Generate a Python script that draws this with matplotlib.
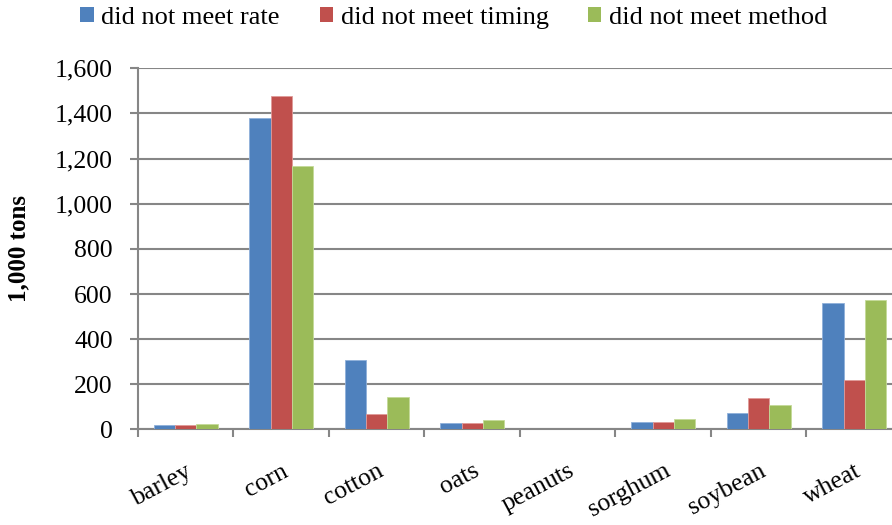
import numpy as np
import matplotlib
matplotlib.use("Agg")
import matplotlib.pyplot as plt
from matplotlib.patches import Patch
from matplotlib.ticker import FuncFormatter

crops = ["barley", "corn", "cotton", "oats", "peanuts", "sorghum", "soybean", "wheat"]
series = ["did not meet rate", "did not meet timing", "did not meet method"]
rate = [18, 1380, 308, 29, 0, 34, 71, 562]
timing = [20, 1475, 68, 29, 0, 35, 139, 219]
method = [25, 1165, 145, 40, 4, 47, 108, 574]
yticks = [0, 200, 400, 600, 800, 1000, 1200, 1400, 1600]

colors = ["#4F81BD", "#C0504D", "#9BBB59"]
edges = ["#8FB0DA", "#E09A98", "#C4DA98"]
grid_col = "#868686"
serif = ["Liberation Serif", "DejaVu Serif"]

plt.rcParams["font.family"] = serif

fig = plt.figure(figsize=(8.92, 5.25), dpi=100)
ax = fig.add_axes([0.1547, 0.182, 0.8565, 0.688])

x = np.arange(len(crops))
w = 1 / 4.5
for i, vals in enumerate([rate, timing, method]):
    ax.bar(x + (i - 1) * w, vals, width=w, color=colors[i],
           edgecolor=edges[i], linewidth=0.6, zorder=3, label=series[i])

ax.set_xlim(-0.5, len(crops) - 0.5)
ax.set_ylim(0, 1600)
ax.set_yticks(yticks)
ax.yaxis.set_major_formatter(FuncFormatter(lambda v, p: f"{int(v):,}"))
ax.yaxis.grid(True, color=grid_col, linewidth=1.5, zorder=0)

# category boundaries carry the tick marks, labels sit at the centres
ax.set_xticks(np.arange(-0.5, len(crops) + 0.5, 1), minor=True)
ax.set_xticks(x)
ax.set_xticklabels(crops, rotation=28, ha="right", rotation_mode="anchor")
ax.tick_params(axis="x", which="major", length=0, labelsize=18.5, pad=22)
ax.tick_params(axis="x", which="minor", length=6, width=1.5, color=grid_col)
ax.tick_params(axis="y", length=6, width=1.5, color=grid_col, labelsize=18.5, pad=12)

for side in ["top", "right"]:
    ax.spines[side].set_visible(False)
for side in ["left", "bottom"]:
    ax.spines[side].set_color(grid_col)
    ax.spines[side].set_linewidth(1.5)

ax.set_ylabel("1,000 tons", fontsize=18, fontweight="bold", labelpad=18)

handles = [Patch(facecolor=c) for c in colors]
fig.legend(handles, series, loc="center", bbox_to_anchor=(0.509, 0.966), ncol=3,
           frameon=False, prop={"family": serif, "size": 19},
           handlelength=0.5, handleheight=0.5,
           handletextpad=0.3, columnspacing=1.5, borderaxespad=0)

fig.savefig("out.png", dpi=100)
